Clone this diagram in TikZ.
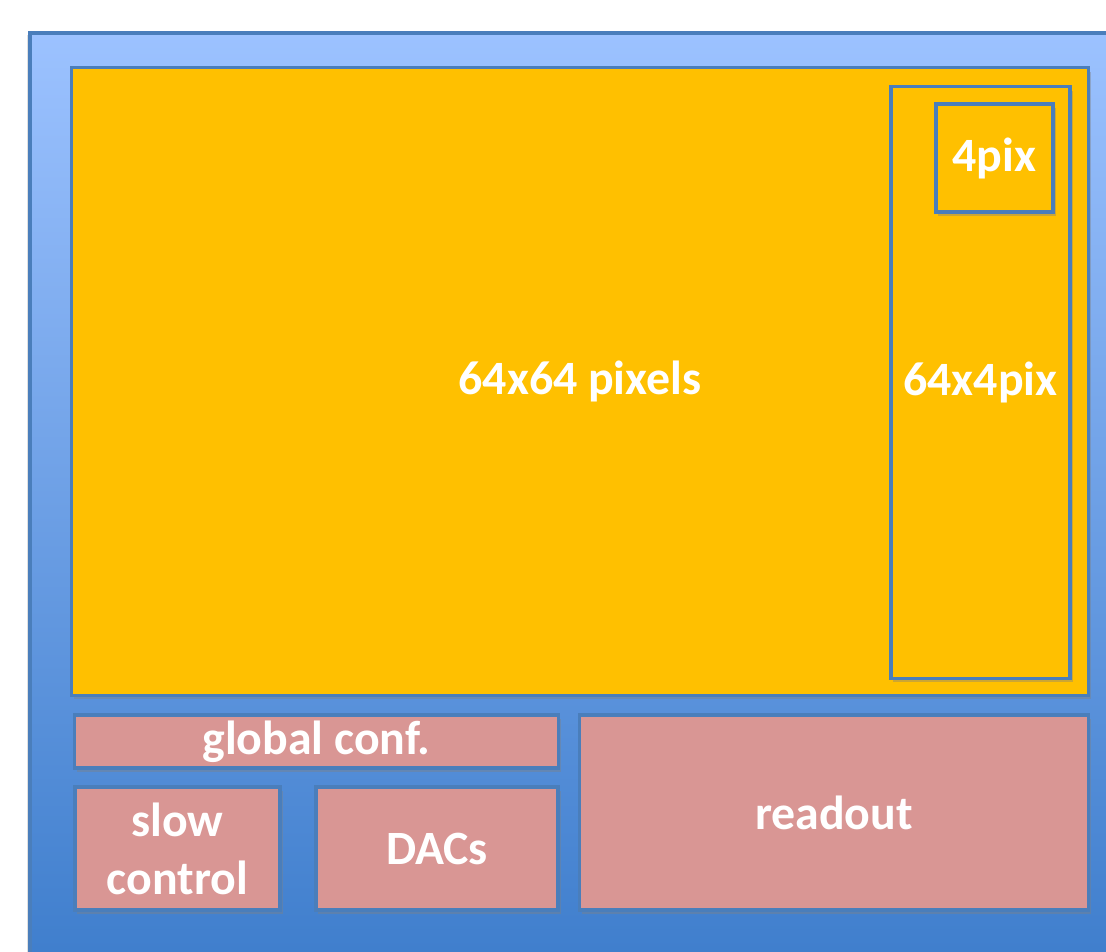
\documentclass[tikz,border=0pt]{standalone}
\usepackage{fontspec}
\setmainfont{Carlito}
\usetikzlibrary{shadows}
\definecolor{chipblue}{HTML}{4A7EBB}
\definecolor{chiptop}{HTML}{9CC2FF}
\definecolor{chipbot}{HTML}{3C7CCB}
\definecolor{pixgold}{HTML}{FFC000}
\definecolor{blockpink}{HTML}{D99694}
\tikzset{block/.style={draw=chipblue, line width=0.9pt, inner sep=0pt, text=white,
  font=\fontsize{13.6}{16.5}\selectfont\bfseries, align=center,
  drop shadow={shadow xshift=0.7pt, shadow yshift=-1.1pt, opacity=0.4}}}
\tikzset{pixarea/.style={block, fill=pixgold}}
\tikzset{periph/.style={block, fill=blockpink}}
\begin{document}
\begin{tikzpicture}[x=0.01cm, y=-0.01cm]
            \useasboundingbox (0, 0) rectangle (1106, 952);
            \clip (0, 0) rectangle (1106, 952);
            \fill[black!12] (27, 35) rectangle (1130, 990);
            \shade[top color=chiptop, bottom color=chipbot, draw=chipblue, line width=1pt]
                (30, 33) rectangle (1130, 990);
            % pixel matrix
            \node[pixarea, minimum width=10.16cm, minimum height=6.27cm] (matrix) at (580, 381.5) {64x64 pixels};
            \node[pixarea, minimum width=1.79cm, minimum height=5.91cm] (column) at (980.5, 382.5) {64x4pix};
            \node[pixarea, minimum width=1.17cm, minimum height=1.08cm] (quad) at (994.5, 158) {4pix};
            % periphery
            \node[periph, minimum width=4.83cm, minimum height=0.53cm] (global) at (316.5, 741.5) {global conf.};
            \node[periph, minimum width=2.05cm, minimum height=1.23cm] (slow) at (177.5, 848.5) {slow\\control};
            \node[periph, minimum width=2.42cm, minimum height=1.23cm] (dacs) at (437, 848.5) {DACs};
            \node[periph, minimum width=5.08cm, minimum height=1.95cm] (readout) at (834, 812.5) {readout};
        \end{tikzpicture}
\end{document}
